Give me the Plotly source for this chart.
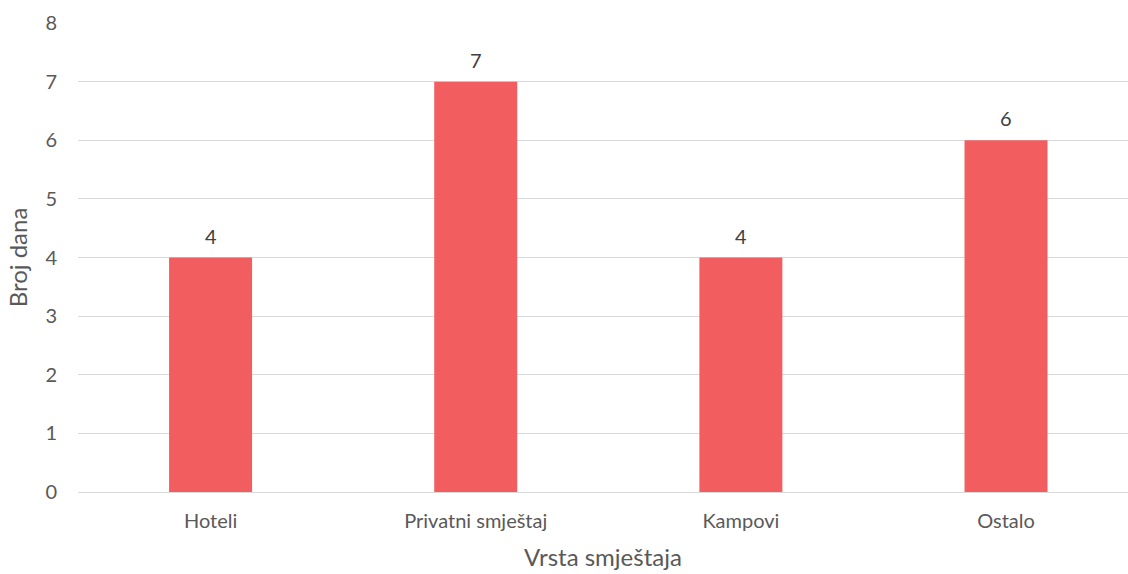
import plotly.graph_objects as go

categories = ["Hoteli", "Privatni smještaj", "Kampovi", "Ostalo"]
values = [4, 7, 4, 6]
y_ticks = [0, 1, 2, 3, 4, 5, 6, 7, 8]

FONT = "Lato, 'Open Sans', sans-serif"

fig = go.Figure(go.Bar(
    x=categories,
    y=values,
    marker=dict(color="#F25D5F", line=dict(width=0)),
    hoverinfo="x+y",
))

for c, v in zip(categories, values):
    fig.add_annotation(
        x=c, y=v, text=str(v), showarrow=False,
        yanchor="middle", yshift=22,
        font=dict(size=20, color="#404040", family=FONT),
    )

fig.update_layout(
    width=1128, height=574,
    margin=dict(l=78, r=0, t=23, b=82),
    paper_bgcolor="white", plot_bgcolor="white",
    bargap=0.687,
    showlegend=False,
    font=dict(family=FONT, color="#595959"),
    xaxis=dict(
        range=[-0.5, 3.46],
        showgrid=False, showline=False, zeroline=False,
        ticks="", tickfont=dict(size=20, color="#595959"),
        ticklabelstandoff=15,
        title=dict(text="Vrsta smještaja", font=dict(size=24, color="#595959"), standoff=18),
    ),
    yaxis=dict(
        range=[0, 8],
        tickvals=y_ticks,
        showgrid=True, gridcolor="#D9D9D9", gridwidth=1.3,
        zeroline=True, zerolinecolor="#D9D9D9", zerolinewidth=1.3,
        showline=False, ticks="",
        tickfont=dict(size=20, color="#595959"),
        ticklabelstandoff=20,
        title=dict(text="Broj dana", font=dict(size=24, color="#595959"), standoff=10),
    ),
)

fig.write_html(
    "out.html",
    config={"displayModeBar": False},
    post_script="document.body.style.margin='0';document.body.style.overflow='hidden';",
)
